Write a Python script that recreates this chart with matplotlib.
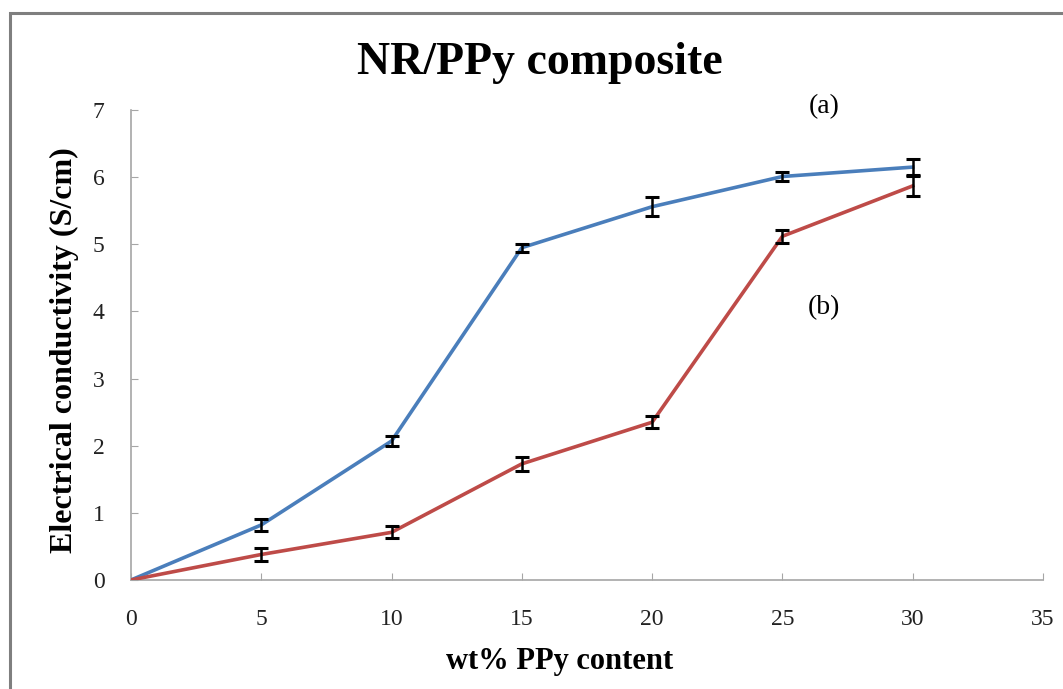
import matplotlib
matplotlib.use("Agg")
import matplotlib.pyplot as plt
from matplotlib.patches import Rectangle

# ── Data ────────────────────────────────────────────────────────────────────
ppy_wt = [0, 5, 10, 15, 20, 25, 30]

cond_a = [0.0, 0.82, 2.07, 4.95, 5.56, 6.01, 6.15]
err_a  = [0.0, 0.09, 0.07, 0.06, 0.14, 0.06, 0.12]

cond_b = [0.0, 0.38, 0.71, 1.73, 2.35, 5.12, 5.87]
err_b  = [0.0, 0.10, 0.09, 0.10, 0.09, 0.10, 0.15]

x_ticks = [0, 5, 10, 15, 20, 25, 30, 35]
y_ticks = [0, 1, 2, 3, 4, 5, 6, 7]

BLUE = "#4a7ebb"
RED = "#be4b48"
GREY = "#a6a6a6"

plt.rcParams["font.family"] = ["Liberation Serif", "DejaVu Serif"]

fig = plt.figure(figsize=(10.63, 6.89), dpi=100)
ax = fig.add_axes([0.1232, 0.1582, 0.858, 0.6821])

# figure border (right and bottom lie outside the image)
fig.patches.append(Rectangle((10 / 1063, -0.05), 1.2, 1 - 13 / 689 + 0.05,
                             transform=fig.transFigure, fill=False,
                             edgecolor="#7f7f7f", linewidth=2.2))

for y, e, c in [(cond_a, err_a, BLUE), (cond_b, err_b, RED)]:
    ax.plot(ppy_wt, y, color=c, linewidth=2.6, zorder=3)
    ax.errorbar(ppy_wt[1:], y[1:], yerr=e[1:], fmt="none", ecolor="black",
                elinewidth=1.8, capsize=5, capthick=2.2, zorder=4)

ax.set_xlim(0, 35)
ax.set_ylim(0, 7)
ax.set_xticks(x_ticks)
ax.set_yticks(y_ticks)
for s in ("top", "right"):
    ax.spines[s].set_visible(False)
for s in ("left", "bottom"):
    ax.spines[s].set_color(GREY)
    ax.spines[s].set_linewidth(1.2)
ax.tick_params(axis="both", direction="in", length=5, color=GREY,
               labelsize=17, labelcolor="#222222")
ax.tick_params(axis="x", pad=21)
ax.tick_params(axis="y", pad=19)

ax.text(26.6, 7.05, "(a)", fontsize=20, ha="center", va="center")
ax.text(26.6, 4.06, "(b)", fontsize=20, ha="center", va="center")

ax.set_xlabel("wt% PPy content", fontsize=22, fontweight="bold")
ax.xaxis.set_label_coords(0.470, -0.174)
ax.xaxis.label.set_va("center")
ax.set_ylabel("Electrical conductivity (S/cm)", fontsize=23,
              fontweight="bold")
ax.yaxis.set_label_coords(-0.0724, 0.489)
ax.yaxis.label.set_va("center")

fig.text(540 / 1063, 1 - 63 / 689, "NR/PPy composite", fontsize=33,
         fontweight="bold", ha="center", va="center")

fig.savefig("out.png", dpi=100)
